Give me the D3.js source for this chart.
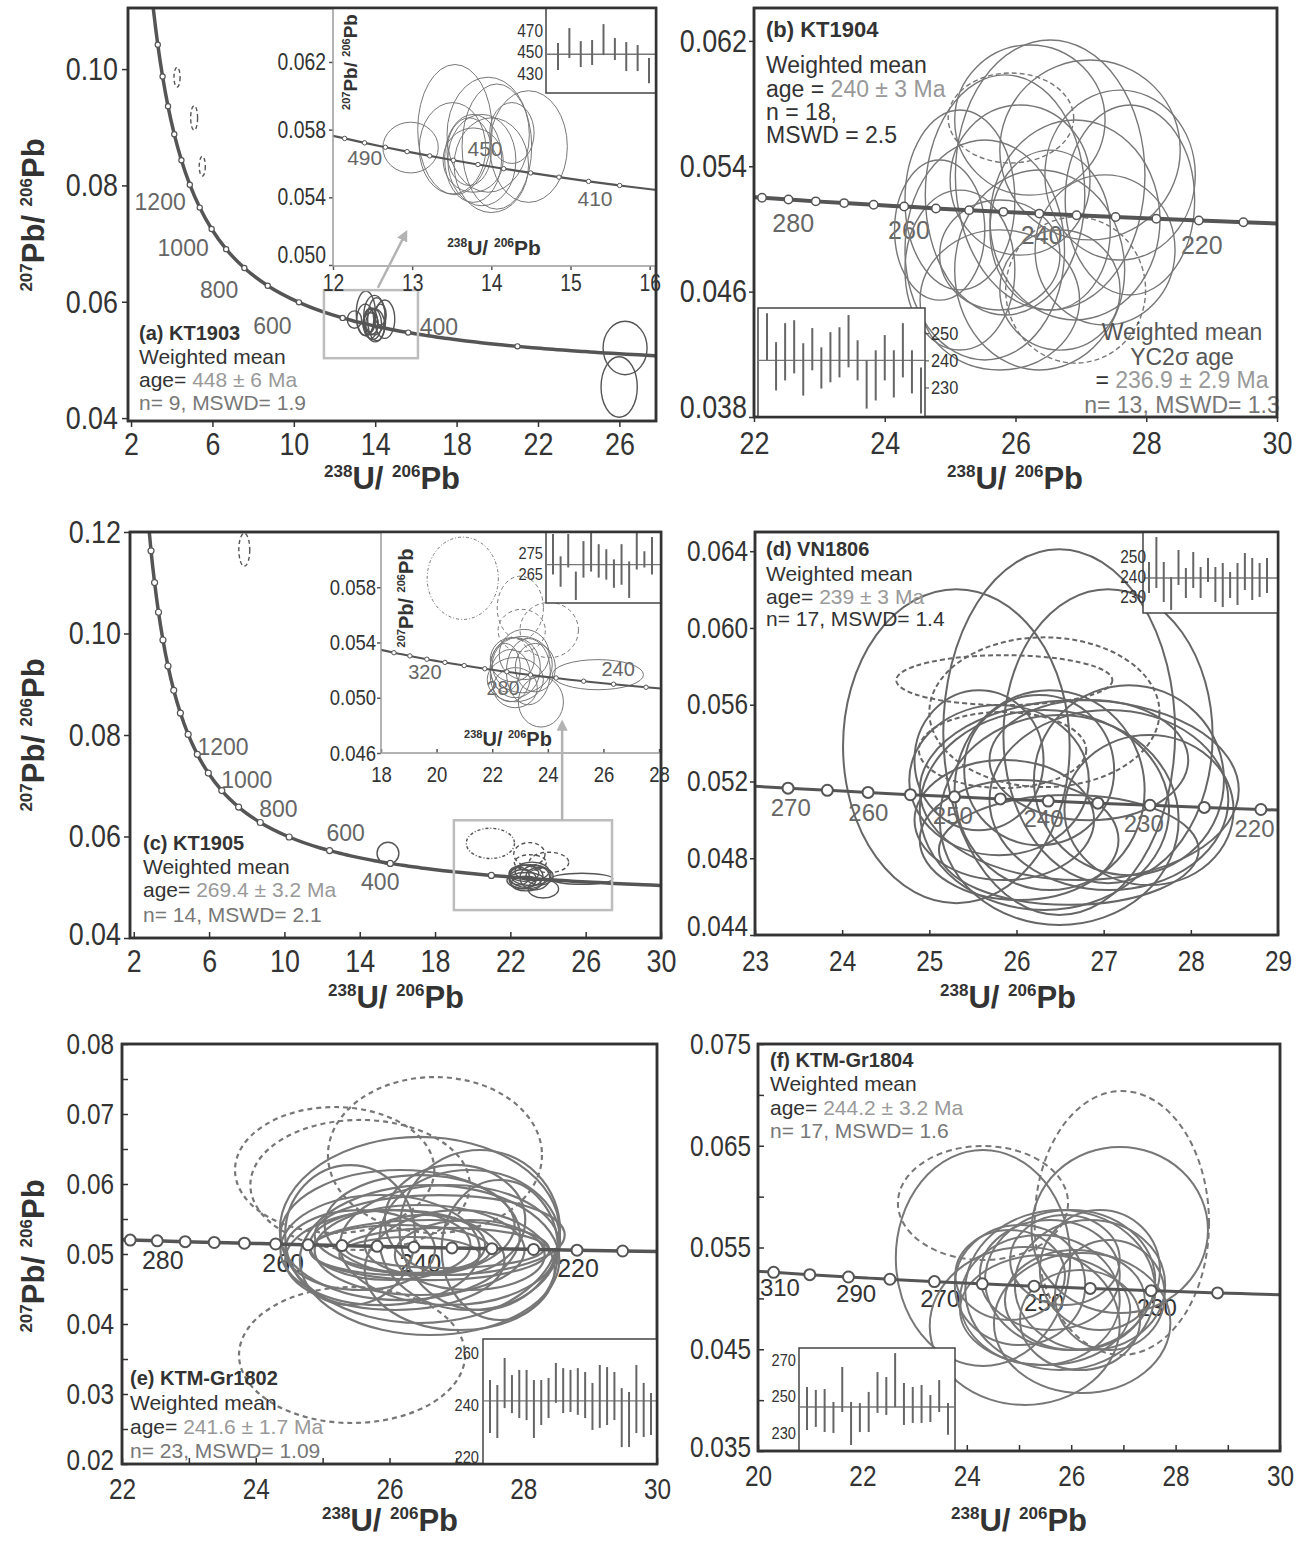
<!DOCTYPE html>
<html>
<head>
<meta charset="utf-8">
<script src="https://cdn.jsdelivr.net/npm/d3@7"></script>
<style>
body{margin:0;background:#fff}
</style>
</head>
<body>
<svg id="fig" width="1307" height="1544"></svg>
<script>
// ---------- concordia knots (age Ma, 238U/206Pb, 207Pb/206Pb) ----------
var concAge = [2000,1900,1800,1700,1600,1500,1400,1300,1200,1100,1000,900,800,700,600,
  520,510,500,490,480,470,460,450,440,430,420,410,400,390,380,370,360,350,340,
  330,320,310,300,290,
  285,280,275,270,265,260,255,250,245,240,235,230,225,220,215,210,200];
var concX = [2.749,2.917,3.105,3.314,3.550,3.817,4.123,4.476,4.888,5.375,5.960,6.674,7.568,8.718,10.252,
  11.904,12.147,12.399,12.662,12.936,13.222,13.520,13.831,14.157,14.497,14.854,15.228,15.621,16.034,16.469,16.927,17.411,17.923,18.465,
  19.039,19.649,20.299,20.992,21.733,
  22.123,22.527,22.945,23.379,23.830,24.297,24.783,25.289,25.815,26.364,26.934,27.531,28.154,28.804,29.486,30.200,31.735];
var concY = [0.12299,0.11629,0.11004,0.10419,0.09872,0.09360,0.08881,0.08432,0.08012,0.07619,0.07250,0.06904,0.06580,0.06276,0.05990,
  0.05774,0.05748,0.05722,0.05696,0.05670,0.05645,0.05619,0.05594,0.05569,0.05544,0.05519,0.05494,0.05470,0.05446,0.05422,0.05397,0.05374,0.05350,0.05326,
  0.05303,0.05279,0.05256,0.05233,0.05210,
  0.05199,0.05188,0.05176,0.05165,0.05154,0.05143,0.05131,0.05120,0.05109,0.05098,0.05087,0.05076,0.05065,0.05054,0.05043,0.05032,0.05011];

// ---------- axis ticks ----------
var aXTicks = [2,6,10,14,18,22,26], aYTicks = [0.04,0.06,0.08,0.10];
var aInXTicks = [12,13,14,15,16], aInYTicks = [0.050,0.054,0.058,0.062];
var bXTicks = [22,24,26,28,30], bYTicks = [0.038,0.046,0.054,0.062];
var cXTicks = [2,6,10,14,18,22,26,30], cYTicks = [0.04,0.06,0.08,0.10,0.12];
var cInXTicks = [18,20,22,24,26,28], cInYTicks = [0.046,0.050,0.054,0.058];
var dXTicks = [23,24,25,26,27,28,29], dYTicks = [0.044,0.048,0.052,0.056,0.060,0.064];
var eXTicks = [22,23,24,25,26,27,28,29,30], eXLabels = [22,24,26,28,30];
var eYTicks = [0.02,0.025,0.03,0.035,0.04,0.045,0.05,0.055,0.06,0.065,0.07,0.075,0.08], eYLabels = [0.02,0.03,0.04,0.05,0.06,0.07,0.08];
var fXTicks = [20,21,22,23,24,25,26,27,28,29,30], fXLabels = [20,22,24,26,28,30];
var fYTicks = [0.035,0.04,0.045,0.05,0.055,0.06,0.065,0.07,0.075], fYLabels = [0.035,0.045,0.055,0.065,0.075];

// ---------- error ellipses: [x, y, half-width, half-height, 0 solid / 1 dashed / 2 fine dash] ----------
var ellAin = [[12.98,0.05694,0.35,0.0015,0],[13.54,0.0580,0.47,0.00385,0],[13.96,0.0577,0.52,0.0034,0],
  [14.07,0.0570,0.44,0.0037,0],[14.47,0.0570,0.49,0.0033,0],[13.77,0.0563,0.36,0.0026,0],
  [13.51,0.0569,0.42,0.0027,0],[13.88,0.0562,0.43,0.0027,0],[13.77,0.0562,0.38,0.0019,0],
  [14.00,0.0559,0.47,0.0028,0],[13.72,0.0567,0.28,0.0020,0],[14.26,0.0578,0.28,0.0018,0]];
var ellAout = [[4.26,0.0986,0.15,0.0017,1],[5.1,0.0916,0.17,0.0021,1],[5.5,0.0833,0.15,0.0017,1],
  [26.28,0.05205,1.08,0.0046,0],[25.99,0.04535,0.89,0.0052,0]];
var ellB = [[26.53,0.05344,1.45,0.00862,0],[25.84,0.05217,1.22,0.00766,0],[27.60,0.05344,1.15,0.00542,0],
  [25.53,0.04866,1.22,0.00702,0],[26.37,0.04738,1.30,0.00638,0],[26.91,0.05057,1.30,0.00638,0],
  [25.15,0.05185,0.84,0.00574,0],[25.76,0.04547,1.22,0.00447,0],[27.14,0.05504,1.38,0.00574,0],
  [26.53,0.04993,0.92,0.00510,0],[25.15,0.04738,0.84,0.00510,0],[26.07,0.05312,1.07,0.00479,0],
  [27.37,0.04866,1.07,0.00479,0],[25.76,0.04834,0.92,0.00351,0],[26.68,0.04610,0.92,0.00383,0],
  [26.22,0.05695,1.15,0.00479,0],[24.84,0.04993,0.69,0.00447,0],[27.75,0.05185,0.99,0.00606,0],
  [25.93,0.05708,0.96,0.00287,1],[26.92,0.04610,1.07,0.00466,1]];
var ellCin = [[20.94,0.05865,1.28,0.00298,2],[23.01,0.05651,0.83,0.00229,1],[24.05,0.0549,1.05,0.0020,1],
  [23.06,0.05487,0.85,0.00153,1],[25.8,0.05167,1.64,0.00109,0],[23.75,0.0497,0.81,0.00182,0],
  [22.83,0.05218,0.90,0.00218,0],[23.08,0.0524,1.08,0.00204,0],[22.65,0.0516,0.72,0.00189,0],
  [23.30,0.05189,0.79,0.0024,0],[22.72,0.05276,0.79,0.0016,0],[23.55,0.05218,0.72,0.00175,0],
  [22.83,0.05131,1.01,0.0016,0],[22.47,0.05218,0.54,0.00175,0],[23.15,0.05313,0.90,0.00182,0],
  [22.83,0.05073,0.79,0.00145,0]];
var ellCout = [[7.87,0.1165,0.29,0.00325,1],[15.5,0.0567,0.58,0.00217,0]];
var ellD = [[25.31,0.05384,1.30,0.00818,0],[26.49,0.05457,1.33,0.00953,0],[27.05,0.05436,1.20,0.00766,0],
  [26.32,0.05051,1.43,0.00521,0],[26.72,0.05155,1.83,0.00469,0],[25.80,0.05207,1.03,0.00391,0],
  [26.49,0.04999,1.37,0.00547,0],[27.06,0.05103,1.37,0.00469,0],[26.03,0.04895,1.14,0.00313,0],
  [26.38,0.05155,1.09,0.00521,0],[25.86,0.04999,1.03,0.00313,0],[26.83,0.05311,1.14,0.00313,0],
  [27.29,0.05207,1.09,0.00495,0],[26.26,0.05259,0.86,0.00391,0],[25.57,0.05311,0.74,0.00365,0],
  [26.60,0.04843,1.49,0.00286,0],[27.52,0.05051,0.97,0.00391,0],
  [25.86,0.05728,1.24,0.0013,1],[26.32,0.05561,1.32,0.0039,1],[25.84,0.05364,0.96,0.00198,1]];
var ellE = [[25.18,0.0620,1.49,0.0090,1],[25.56,0.05986,1.64,0.00929,1],[26.68,0.06414,1.60,0.01114,1],
  [25.44,0.03557,1.69,0.00971,1],
  [26.45,0.05343,2.09,0.01329,0],[26.60,0.04914,1.94,0.01071,0],[26.16,0.05271,1.79,0.00929,0],
  [26.90,0.05129,1.64,0.00857,0],[25.86,0.05057,1.49,0.00786,0],[27.20,0.05200,1.35,0.01000,0],
  [26.45,0.05057,1.57,0.00643,0],[26.01,0.05129,1.20,0.00500,0],[26.60,0.05057,1.79,0.00429,0],
  [26.16,0.05057,1.35,0.00357,0],[26.83,0.05086,1.49,0.00286,0],[26.30,0.04986,1.05,0.00257,0],
  [27.35,0.05343,1.20,0.01143,0],[25.41,0.05271,0.97,0.01000,0],[27.65,0.05057,0.87,0.01000,0],
  [27.05,0.04771,1.42,0.00857,0],[26.45,0.05414,1.42,0.00714,0],[26.75,0.05271,1.87,0.00571,0],
  [26.08,0.04914,1.64,0.00714,0],[27.20,0.04986,1.12,0.00500,0],[26.53,0.05129,0.90,0.00429,0],
  [25.56,0.05057,1.12,0.00571,0],[26.98,0.05486,1.05,0.00786,0]];
var ellF = [[24.31,0.05937,1.63,0.0056,1],[26.97,0.05741,1.67,0.01297,1],
  [24.31,0.05397,1.67,0.01061,0],[26.93,0.05672,1.69,0.00816,0],[25.11,0.04729,1.82,0.00776,0],
  [26.21,0.04758,1.69,0.00688,0],[25.79,0.05082,1.82,0.00786,0],[25.98,0.05181,1.63,0.00688,0],
  [25.40,0.04984,1.53,0.00639,0],[26.36,0.05131,1.44,0.00639,0],[25.59,0.05230,1.34,0.00540,0],
  [25.02,0.05131,1.25,0.00590,0],[26.07,0.04984,1.34,0.00491,0],[26.55,0.05279,1.15,0.00590,0],
  [25.50,0.04886,1.63,0.00540,0],[25.88,0.05377,1.05,0.00442,0],[26.17,0.04787,1.15,0.00491,0],
  [24.83,0.05230,1.05,0.00442,0],[26.74,0.05033,1.05,0.00540,0]];

// ---------- age labels along the concordia: [text, x, y] ----------
var agesA = [["1200",3.43,0.0772],["1000",4.56,0.0693],["800",6.33,0.0621],["600",8.95,0.0559],["400",17.13,0.0557]];
var agesAin = [["490",12.40,0.05633],["450",13.92,0.05686],["410",15.31,0.05396]];
var agesB = [["280",22.6,0.05038],["260",24.37,0.04993],["240",26.40,0.04962],["220",28.85,0.04898]];
var agesC = [["1200",6.74,0.0776],["1000",8.0,0.0711],["800",9.68,0.0654],["600",13.25,0.0607],["400",15.09,0.0510]];
var agesCin = [["320",19.58,0.05189],["280",22.39,0.05073],["240",26.53,0.05211]];
var agesD = [["270",23.41,0.05067],["260",24.30,0.0504],["250",25.27,0.05025],["240",26.31,0.0501],["230",27.46,0.04983],["220",28.73,0.04957]];
var agesE = [["280",22.61,0.0491],["260",24.41,0.0487],["240",26.46,0.0487],["220",28.82,0.0480]];
var agesF = [["310",20.42,0.0511],["290",21.88,0.05053],["270",23.49,0.05004],["250",25.48,0.04964],["230",27.64,0.04915]];

// ---------- weighted-mean insets: bars [upper, lower] in Ma ----------
var wmA = [[458.4,433.3],[472.3,444.4],[460.2,436.0],[461.2,438.0],[476.0,447.2],[463.0,442.6],[459.3,432.3],[456.5,432.3],[444.4,421.0]];
var wmATicks = [430,450,470], wmAMean = 448;
var wmB = [[257.4,240.0],[246.7,228.9],[253.7,232.6],[254.8,235.2],[246.3,227.0],[251.9,236.3],[244.8,229.6],[250.4,231.9],[252.2,233.7],
  [256.7,237.4],[247.4,232.6],[240.0,222.2],[243.7,225.2],[249.3,232.6],[243.7,226.3],[253.7,233.7],[243.7,227.8],[237.4,220.4]];
var wmBTicks = [230,240,250], wmBMean = 240;
var wmC = [[284.5,264.5],[273.5,258.5],[284.5,268],[266,252],[281,263],[285,266],[279.5,263],[277,262],[272,258],[279.5,259.5],
  [271,253],[285.5,267],[276,268],[283,264.5]];
var wmCTicks = [265,275], wmCMean = 269.4;
var wmD = [[247.5,232],[260,234.5],[247.5,227.5],[240,223.5],[253.5,236],[244.5,229.5],[252.5,234.5],[245,229.5],[249.5,237.5],
  [245,227.5],[247,225],[242.5,229.5],[247,226],[252,233.5],[249.5,228.5],[247,230],[249.5,232]];
var wmDTicks = [230,240,250], wmDMean = 239.5;
var wmE = [[249.6,229.2],[247.7,227.3],[258.1,238.8],[251.5,236.9],[253.5,235],[253.5,234.2],[249.6,227.3],[249.6,232.3],[250.4,235],
  [256.2,240.8],[254.2,236.9],[253.5,237.3],[254.2,236.2],[252.7,235],[248.5,230.4],[255.4,231.2],[254.6,232.3],[252.7,234.2],
  [246.5,223.8],[245,223.8],[255.4,229.2],[248.5,227.7],[244.6,228.5]];
var wmETicks = [220,240,260], wmEMean = 241.6;
var wmF = [[255.2,231.6],[253.6,233.3],[254.1,230.5],[247,230],[266.2,241.5],[247,223.4],[246.4,230.5],[252.5,230.5],[263.4,241],
  [260.7,239.9],[273.8,244.2],[257.4,234.4],[255.2,235.5],[256.3,235.5],[250.8,236],[259,241.5],[246.4,229]];
var wmFTicks = [230,250,270], wmFMean = 244.2;

// ---------- text ----------
var xTitle = [["238",1],["U/ ",0],["206",1],["Pb",0]];
var yTitle = [["207",1],["Pb/ ",0],["206",1],["Pb",0]];
var txtA = [[["(a) KT1903","b"]],[["Weighted mean","d"]],[["age= ","d"],["448 ± 6 Ma","l"]],[["n= 9, MSWD= 1.9","m"]]];
var txtB = [[["(b) KT1904","b"]],[["Weighted mean","d"]],[["age = ","d"],["240 ± 3 Ma","l"]],[["n = 18,","d"]],[["MSWD = 2.5","d"]]];
var txtB2 = [[["Weighted mean","g"]],[["YC2σ age","g"]],[["= ","d"],["236.9 ± 2.9 Ma","l"]],[["n= 13, MSWD= 1.3","m"]]];
var txtC = [[["(c) KT1905","b"]],[["Weighted mean","d"]],[["age= ","d"],["269.4 ± 3.2 Ma","l"]],[["n= 14, MSWD= 2.1","m"]]];
var txtD = [[["(d) VN1806","b"]],[["Weighted mean","d"]],[["age= ","d"],["239 ± 3 Ma","l"]],[["n= 17, MSWD= 1.4","d"]]];
var txtE = [[["(e) KTM-Gr1802","b"]],[["Weighted mean","d"]],[["age= ","d"],["241.6 ± 1.7 Ma","l"]],[["n= 23, MSWD= 1.09","m"]]];
var txtF = [[["(f) KTM-Gr1804","b"]],[["Weighted mean","d"]],[["age= ","d"],["244.2 ± 3.2 Ma","l"]],[["n= 17, MSWD= 1.6","m"]]];

// zoom boxes [x0,x1,y0,y1] and arrows [x0,y0,x1,y1] in main-panel data units
var zoomBoxA = [11.48,16.1,0.0503,0.0620], arrowA = [14.13,0.0624,15.5,0.0718];
var zoomBoxC = [19.0,27.4,0.0455,0.0632], arrowC = [24.75,0.0632,24.75,0.0824];

// ================= drawing =================
var FN = "'Liberation Sans',Arial,sans-serif";
var FR = "'Liberation Sans',Arial,Helvetica,sans-serif";
var tone = {b:"#333", d:"#333", g:"#555", l:"#999", m:"#777"};
var svg = d3.select("#fig");
svg.append("rect").attr("width",1307).attr("height",1544).attr("fill","#fff");
var defs = svg.append("defs");
defs.append("marker").attr("id","arr").attr("viewBox","0 0 10 10").attr("refX",7).attr("refY",5)
  .attr("markerWidth",4.5).attr("markerHeight",4.5).attr("orient","auto")
  .append("path").attr("d","M0,0L10,5L0,10z").attr("fill","#b3b3b3");
var nClip = 0;
function clip(b){
  var id = "clip" + (nClip++);
  defs.append("clipPath").attr("id",id).append("rect")
    .attr("x",b[0]).attr("y",b[2]).attr("width",b[1]-b[0]).attr("height",b[3]-b[2]);
  return "url(#"+id+")";
}
// condensed look for tick labels (narrow face is not installed)
function narrow(sel, k){
  sel.each(function(){
    var w = this.getComputedTextLength();
    if (w > 0) { this.setAttribute("textLength", (w*k).toFixed(1)); this.setAttribute("lengthAdjust","spacingAndGlyphs"); }
  });
}

// one concordia diagram (main panel or inset)
function plot(o){
  var b = o.box;
  var g = svg.append("g");
  var x = d3.scaleLinear().domain(o.xDom).range([b[0], b[1]]);
  var y = d3.scaleLinear().domain(o.yDom).range([b[3], b[2]]);
  if (o.white) g.append("rect").attr("x",b[0]).attr("y",b[2]).attr("width",b[1]-b[0]).attr("height",b[3]-b[2]).attr("fill","#fff");
  var inner = g.append("g").attr("clip-path", clip(b));

  inner.selectAll("text.age").data(o.ages).join("text").attr("class","age")
    .attr("x", function(d){ return x(d[1]); }).attr("y", function(d){ return y(d[2]); })
    .attr("dy","0.36em").attr("text-anchor","middle").style("font-family",FR)
    .attr("font-size", o.ageFs).attr("fill", o.ageCol).text(function(d){ return d[0]; });

  inner.selectAll("ellipse").data(o.ell).join("ellipse")
    .attr("cx", function(d){ return x(d[0]); }).attr("cy", function(d){ return y(d[1]); })
    .attr("rx", function(d){ return x(d[0]+d[2]) - x(d[0]); })
    .attr("ry", function(d){ return y(d[1]-d[3]) - y(d[1]); })
    .attr("fill","none").attr("stroke", o.ellCol).attr("stroke-width", o.ellW)
    .attr("stroke-dasharray", function(d){ return d[4]==1 ? o.dash : (d[4]==2 ? "3,2,1,2" : null); });

  var idx = d3.range(concAge.length).filter(function(i){ return concX[i] > o.xDom[0]-3 && concX[i] < o.xDom[1]+3; });
  var line = d3.line().x(function(i){ return x(concX[i]); }).y(function(i){ return y(concY[i]); }).curve(d3.curveMonotoneX);
  inner.append("path").attr("d", line(idx)).attr("fill","none").attr("stroke","#555").attr("stroke-width", o.curveW);

  var dots = d3.range(concAge.length).filter(function(i){
    return concAge[i] % o.dot[0] == 0 && concAge[i] >= o.dot[1] && concAge[i] <= o.dot[2];
  });
  inner.selectAll("circle").data(dots).join("circle")
    .attr("cx", function(i){ return x(concX[i]); }).attr("cy", function(i){ return y(concY[i]); })
    .attr("r", o.dotR).attr("fill","#fff").attr("stroke","#555").attr("stroke-width", o.dotW);

  // axes
  var xa = d3.axisBottom(x).tickValues(o.xT).tickSizeInner(o.xIn ? -o.tk : o.tk).tickSizeOuter(0).tickPadding(o.xPad)
    .tickFormat(function(d){ return (!o.xL || o.xL.indexOf(d) >= 0) ? d3.format("d")(d) : ""; });
  var ya = d3.axisLeft(y).tickValues(o.yT).tickSizeInner(o.yIn ? -o.tk : o.tk).tickSizeOuter(0).tickPadding(o.yPad)
    .tickFormat(function(d){ return (!o.yL || o.yL.indexOf(d) >= 0) ? d.toFixed(o.yDec) : ""; });
  var gx = g.append("g").attr("transform","translate(0,"+b[3]+")").call(xa);
  var gy = g.append("g").attr("transform","translate("+b[0]+",0)").call(ya);
  [gx, gy].forEach(function(a){
    a.select(".domain").remove();
    a.selectAll("line").attr("stroke", o.tkCol || "#333").attr("stroke-width", 1.5);
    a.selectAll("text").style("font-family", FN).style("font-size", o.fs + "px").attr("fill","#333");
    narrow(a.selectAll("text"), 0.84);
  });
  // lowest y label sits a little higher, clear of the corner
  if (o.lowUp) gy.selectAll(".tick").filter(function(d){ return d === o.yT[0]; })
    .select("text").attr("transform","translate(0,"+(-o.lowUp)+")");

  g.append("rect").attr("x",b[0]).attr("y",b[2]).attr("width",b[1]-b[0]).attr("height",b[3]-b[2])
    .attr("fill","none").attr("stroke", o.frameCol).attr("stroke-width", o.frameW);
  return {x:x, y:y};
}

// weighted-mean bar inset
function wm(o){
  var b = o.box;
  var g = svg.append("g");
  var y = d3.scaleLinear().domain(o.dom).range([b[3], b[2]]);
  var x = d3.scalePoint().domain(d3.range(o.bars.length)).range(o.xr);
  g.append("rect").attr("x",b[0]).attr("y",b[2]).attr("width",b[1]-b[0]).attr("height",b[3]-b[2])
    .attr("fill","#fff").attr("stroke","#444").attr("stroke-width",1.5);
  g.append("line").attr("x1",b[0]).attr("x2",b[1]).attr("y1",y(o.mean)).attr("y2",y(o.mean))
    .attr("stroke","#777").attr("stroke-width",1.4);
  g.selectAll("line.bar").data(o.bars).join("line").attr("class","bar")
    .attr("x1", function(d,i){ return x(i); }).attr("x2", function(d,i){ return x(i); })
    .attr("y1", function(d){ return y(d[0]); }).attr("y2", function(d){ return y(d[1]); })
    .attr("stroke","#666").attr("stroke-width",2);
  var ax = (o.side == "right" ? d3.axisRight(y) : d3.axisLeft(y)).tickValues(o.ticks).tickSizeInner(o.tk).tickSizeOuter(0).tickPadding(o.pad);
  var ga = g.append("g").attr("transform","translate("+(o.side == "right" ? b[1] : b[0])+",0)").call(ax);
  ga.select(".domain").remove();
  ga.selectAll("line").attr("stroke","#444");
  ga.selectAll("text").style("font-family",FN).style("font-size",o.fs+"px").attr("fill","#333");
  narrow(ga.selectAll("text"), 0.86);
}

function title(parts, tx, ty, rot, fs){
  var t = svg.append("text").attr("transform","translate("+tx+","+ty+") rotate("+rot+")")
    .attr("text-anchor","middle").attr("font-weight","bold").attr("fill","#333").style("font-family",FR);
  var up = false;
  parts.forEach(function(p){
    var s = t.append("tspan").text(p[0]);
    if (p[1]) { s.attr("font-size", Math.round(fs*0.56)).attr("dy", up ? 0 : -fs*0.38); up = true; }
    else { s.attr("font-size", fs).attr("dy", up ? fs*0.38 : 0); up = false; }
  });
}

function block(lines, x, ys, fs, anchor){
  lines.forEach(function(line, i){
    var t = svg.append("text").attr("x",x).attr("y",ys[i]).attr("font-size",fs)
      .attr("text-anchor", anchor || "start").style("font-family",FR);
    line.forEach(function(s){
      t.append("tspan").text(s[0]).attr("fill", tone[s[1]]).attr("font-weight", s[1]=="b" ? "bold" : null)
        .attr("font-size", s[1]=="b" ? fs-1 : fs);
    });
  });
}

function zoomMark(p, boxD, arr){
  svg.append("rect").attr("x",p.x(boxD[0])).attr("y",p.y(boxD[3]))
    .attr("width",p.x(boxD[1])-p.x(boxD[0])).attr("height",p.y(boxD[2])-p.y(boxD[3]))
    .attr("fill","none").attr("stroke","#bdbdbd").attr("stroke-width",2.5);
  return function(){
    svg.append("line").attr("x1",p.x(arr[0])).attr("y1",p.y(arr[1])).attr("x2",p.x(arr[2])).attr("y2",p.y(arr[3]))
      .attr("stroke","#b3b3b3").attr("stroke-width",2.5).attr("marker-end","url(#arr)");
  };
}

var mainStyle = {frameCol:"#333", frameW:2.5, tk:6, fs:32};
function M(o){ return Object.assign({}, mainStyle, o); }

// ---------------- (a) ----------------
var pA = plot(M({box:[128,656,8,421], xDom:[1.85,27.8], yDom:[0.0395,0.1105], xT:aXTicks, yT:aYTicks, yDec:2,
  xPad:5, yPad:4, ell:ellAin.concat(ellAout), ellCol:"#555", ellW:1.4, dash:"4,3",
  ages:agesA, ageFs:23, ageCol:"#666", curveW:3.5, dot:[100,300,1700], dotR:2.6, dotW:1.2}));
var arrA = zoomMark(pA, zoomBoxA, arrowA);
block(txtA, 139, [340,364,387,410], 21);
plot({box:[333,656,8,266], xDom:[12,16.08], yDom:[0.04994,0.06519], xT:aInXTicks, yT:aInYTicks, yDec:3,
  white:true, frameCol:"#9a9a9a", frameW:1.5, tk:4, tkCol:"#555", fs:23, xPad:5, yPad:3, lowUp:10,
  ell:ellAin, ellCol:"#777", ellW:1, dash:"4,3",
  ages:agesAin, ageFs:21, ageCol:"#666", curveW:2.2, dot:[10,400,510], dotR:2.2, dotW:1});
title(yTitle, 357, 62, -90, 19);
title(xTitle, 494, 255, 0, 21);
wm({box:[546,656,8,93], dom:[411.9,491], ticks:wmATicks, side:"left", tk:0, pad:3, fs:18,
  bars:wmA, mean:wmAMean, xr:[558,649]});
svg.append("rect").attr("x",128).attr("y",8).attr("width",528).attr("height",413)
  .attr("fill","none").attr("stroke","#333").attr("stroke-width",2.5);
arrA();
title(xTitle, 392, 489, 0, 31);
title(yTitle, 44, 215, -90, 31);

// ---------------- (b) ----------------
plot(M({box:[754,1277,8,417], xDom:[22,30], yDom:[0.038,0.0641], xT:bXTicks, yT:bYTicks, yDec:3,
  xPad:9, yPad:2, tk:5, lowUp:10, ell:ellB, ellCol:"#777", ellW:1.4, dash:"5,3",
  ages:agesB, ageFs:25, ageCol:"#666", curveW:4, dot:[5,215,285], dotR:4.2, dotW:1.5}));
block(txtB, 766, [37,73,97,120,143], 23);
block(txtB2, 1182, [340,365,388,413], 23, "middle");
wm({box:[758,925,308,417], dom:[219.1,259.3], ticks:wmBTicks, side:"right", tk:4, pad:2, fs:19,
  bars:wmB, mean:wmBMean, xr:[767,921]});
svg.append("rect").attr("x",754).attr("y",8).attr("width",523).attr("height",409)
  .attr("fill","none").attr("stroke","#333").attr("stroke-width",2.5);
title(xTitle, 1015, 489, 0, 31);

// ---------------- (c) ----------------
var pC = plot(M({box:[130,661,532,938], xDom:[1.8,30], yDom:[0.04,0.12], xT:cXTicks, yT:cYTicks, yDec:2,
  xIn:true, xPad:11, yPad:3, lowUp:4, ell:ellCin.concat(ellCout), ellCol:"#555", ellW:1.4, dash:"4,3",
  ages:agesC, ageFs:23, ageCol:"#666", curveW:3.5, dot:[100,300,1900], dotR:3, dotW:1.2}));
var arrC = zoomMark(pC, zoomBoxC, arrowC);
block(txtC, 143, [850,874,897,922], 21);
plot({box:[381,661,532,753], xDom:[18,28.07], yDom:[0.046,0.062], xT:cInXTicks, yT:cInYTicks, yDec:3,
  white:true, frameCol:"#9a9a9a", frameW:1.5, tk:4, tkCol:"#555", fs:22, xIn:true, xPad:13, yPad:1,
  ell:ellCin, ellCol:"#777", ellW:1, dash:"4,3",
  ages:agesCin, ageFs:20, ageCol:"#666", curveW:2, dot:[10,230,340], dotR:2.2, dotW:1});
title(yTitle, 413, 598, -90, 20);
title(xTitle, 508, 746, 0, 20);
wm({box:[546,661,532,603], dom:[250.5,285.5], ticks:wmCTicks, side:"left", tk:0, pad:3, fs:17,
  bars:wmC, mean:wmCMean, xr:[553,652]});
svg.append("rect").attr("x",130).attr("y",532).attr("width",531).attr("height",406)
  .attr("fill","none").attr("stroke","#333").attr("stroke-width",2.5);
arrC();
title(xTitle, 396, 1008, 0, 31);
title(yTitle, 44, 735, -90, 31);

// ---------------- (d) ----------------
plot(M({box:[755,1278,532,935], xDom:[23,29], yDom:[0.044,0.065], xT:dXTicks, yT:dYTicks, yDec:3,
  xIn:true, xPad:15, yPad:2, tk:5, fs:29, lowUp:9, ell:ellD, ellCol:"#666", ellW:2, dash:"5,3",
  ages:agesD, ageFs:24, ageCol:"#666", curveW:3, dot:[5,220,270], dotR:5.5, dotW:2}));
block(txtD, 766, [556,581,604,626], 21);
wm({box:[1143,1278,532,613], dom:[222,262.5], ticks:wmDTicks, side:"left", tk:0, pad:-3, fs:18,
  bars:wmD, mean:wmDMean, xr:[1149,1267]});
svg.append("rect").attr("x",755).attr("y",532).attr("width",523).attr("height",403)
  .attr("fill","none").attr("stroke","#333").attr("stroke-width",2.5);
title(xTitle, 1008, 1008, 0, 31);

// ---------------- (e) ----------------
plot(M({box:[122,657,1044,1464], xDom:[22,30], yDom:[0.02,0.08], xT:eXTicks, xL:eXLabels, yT:eYTicks, yL:eYLabels, yDec:2,
  xIn:true, yIn:true, xPad:14, yPad:8, fs:29, lowUp:4, ell:ellE, ellCol:"#777", ellW:2.2, dash:"5,4",
  ages:agesE, ageFs:25, ageCol:"#333", curveW:3.5, dot:[5,215,285], dotR:5.5, dotW:2}));
block(txtE, 130, [1385,1410,1434,1458], 21);
wm({box:[483,657,1339,1464], dom:[217.3,265.4], ticks:wmETicks, side:"left", tk:0, pad:4, fs:17,
  bars:wmE, mean:wmEMean, xr:[490,651]});
svg.append("rect").attr("x",122).attr("y",1044).attr("width",535).attr("height",420)
  .attr("fill","none").attr("stroke","#333").attr("stroke-width",2.5);
title(xTitle, 390, 1531, 0, 31);
title(yTitle, 44, 1256, -90, 31);

// ---------------- (f) ----------------
plot(M({box:[758,1280,1044,1451], xDom:[20,30], yDom:[0.035,0.075], xT:fXTicks, xL:fXLabels, yT:fYTicks, yL:fYLabels, yDec:3,
  xIn:true, yIn:true, xPad:14, yPad:7, fs:29, lowUp:4, ell:ellF, ellCol:"#777", ellW:2, dash:"6,4",
  ages:agesF, ageFs:24, ageCol:"#333", curveW:3, dot:[10,220,310], dotR:5.5, dotW:2}));
block(txtF, 770, [1067,1091,1115,1138], 21);
wm({box:[799,955,1348,1451], dom:[220.1,276.6], ticks:wmFTicks, side:"left", tk:0, pad:3, fs:17,
  bars:wmF, mean:wmFMean, xr:[807,948]});
svg.append("rect").attr("x",758).attr("y",1044).attr("width",522).attr("height",407)
  .attr("fill","none").attr("stroke","#333").attr("stroke-width",2.5);
title(xTitle, 1019, 1531, 0, 31);
</script>
</body>
</html>
